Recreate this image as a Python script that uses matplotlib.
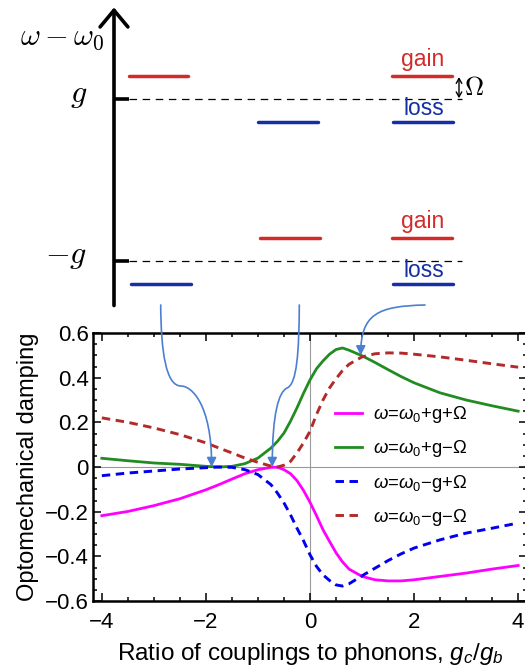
import numpy as np
import matplotlib.pyplot as plt
from matplotlib.path import Path
from matplotlib.patches import FancyArrowPatch
from matplotlib.ticker import MultipleLocator, FuncFormatter

plt.rcParams['font.family'] = ['Liberation Sans', 'DejaVu Sans']
plt.rcParams['mathtext.fontset'] = 'custom'
plt.rcParams['mathtext.rm'] = 'Liberation Sans'
plt.rcParams['mathtext.it'] = 'Liberation Sans:italic'

# --- top schematic: levels in units of g ---
g = 1.0
Omega = 0.28
col1_gain = [g + Omega]
col1_loss = [-g - Omega]
col2_gain = [-g + Omega]
col2_loss = [g - Omega]
col3_gain = [g + Omega, -g + Omega]
col3_loss = [g - Omega, -g - Omega]

# --- bottom plot: optomechanical damping vs g_c/g_b ---
ratio = [-4, -3.5, -3, -2.5, -2, -1.75, -1.5, -1.25, -1, -0.75, -0.625, -0.5,
         -0.375, -0.25, -0.125, 0, 0.125, 0.25, 0.375, 0.5, 0.625, 0.75, 1,
         1.25, 1.5, 1.75, 2, 2.5, 3, 3.5, 4]
plus_g_plus_W = [-0.218, -0.199, -0.173, -0.142, -0.102, -0.079, -0.054, -0.03,
                 -0.012, -0.0015, -0.001, -0.012, -0.03, -0.061, -0.105, -0.158,
                 -0.218, -0.281, -0.333, -0.384, -0.425, -0.457, -0.49, -0.505,
                 -0.51, -0.51, -0.505, -0.49, -0.475, -0.457, -0.441]
plus_g_minus_W = [0.039, 0.028, 0.018, 0.012, 0.003, 0.0, 0.003, 0.015, 0.04,
                  0.085, 0.115, 0.152, 0.205, 0.265, 0.33, 0.39, 0.44, 0.475,
                  0.505, 0.526, 0.533, 0.523, 0.498, 0.468, 0.436, 0.405, 0.377,
                  0.332, 0.300, 0.274, 0.25]
minus_g_plus_W = [-0.039, -0.027, -0.018, -0.009, -0.003, 0.0, -0.0015, -0.012,
                  -0.034, -0.079, -0.117, -0.161, -0.214, -0.274, -0.33, -0.393,
                  -0.445, -0.483, -0.508, -0.528, -0.533, -0.523, -0.487, -0.453,
                  -0.419, -0.389, -0.363, -0.326, -0.296, -0.274, -0.251]
minus_g_minus_W = [0.22, 0.2, 0.175, 0.145, 0.108, 0.085, 0.063, 0.04, 0.021,
                   0.004, 0.0, 0.008, 0.025, 0.063, 0.108, 0.16, 0.235, 0.30,
                   0.354, 0.395, 0.432, 0.46, 0.493, 0.507, 0.511, 0.51, 0.505,
                   0.493, 0.478, 0.462, 0.447]
labels = [r'$\omega$=$\omega_0$+g+Ω', r'$\omega$=$\omega_0$+g−Ω',
          r'$\omega$=$\omega_0$−g+Ω', r'$\omega$=$\omega_0$−g−Ω']
# arrow tips (points where damping vanishes / curves cross)
tips_x = [-1.89, -0.725, 0.975]
tips_y = [0.0, 0.0, 0.50]

red = '#d42a2a'
blue = '#1630a4'
arrow_c = '#4b7fd1'

fig = plt.figure(figsize=(5.25, 6.67), dpi=100)

# ---------- top schematic ----------
axt = fig.add_axes([0, 1 - 310 / 667, 1, 310 / 667])
axt.set_xlim(0, 525)
axt.set_ylim(-1.605, 2.222)
axt.axis('off')

axt.annotate('', xy=(114, 2.13), xytext=(114, -1.55),
             arrowprops=dict(arrowstyle='->,head_length=0.6,head_width=0.5',
                             lw=2.6, color='black', mutation_scale=20,
                             shrinkA=0, shrinkB=0))
for lev in [g, -g]:
    axt.plot([114, 129], [lev, lev], color='black', lw=2.6, solid_capstyle='butt')
    axt.plot([129, 462], [lev, lev], color='black', lw=0.9, dashes=(6, 4.5))

def level(x0, x1, ys, c):
    for y in ys:
        axt.plot([x0, x1], [y, y], color=c, lw=2.5, solid_capstyle='round')

level(129, 188, col1_gain, red)
level(131, 191, col1_loss, blue)
level(258, 318, col2_loss, blue)
level(260, 320, col2_gain, red)
level(392, 452, col3_gain, red)
level(393, 453, col3_loss, blue)

for y in col3_gain:
    axt.text(423, y + 0.13, 'gain', color=red, fontsize=16.5, ha='center', va='baseline')
for y in col3_loss:
    axt.text(424, y + 0.08, 'loss', color=blue, fontsize=16.5, ha='center', va='baseline')

axt.annotate('', xy=(459, g + Omega - 0.01), xytext=(459, g + 0.01),
             arrowprops=dict(arrowstyle='<->,head_length=0.35,head_width=0.2',
                             lw=1.0, color='black', mutation_scale=10,
                             shrinkA=0, shrinkB=0))
axt.text(464, g + Omega / 2, r'$\Omega$', fontsize=19, math_fontfamily='cm',
         ha='left', va='center')
axt.text(104, 1.667, r'$\omega - \omega_0$', fontsize=22, math_fontfamily='cm',
         ha='right', va='baseline')
axt.text(87, g - 0.04, r'$g$', fontsize=23, math_fontfamily='cm',
         ha='right', va='baseline')
axt.text(87, -g - 0.02, r'$-g$', fontsize=23, math_fontfamily='cm',
         ha='right', va='baseline')

# ---------- bottom plot ----------
ax = fig.add_axes([93 / 525, 1 - 601 / 667, 434 / 525, 268 / 667])
ax.axhline(0, color='#9a9a9a', lw=0.8, zorder=1)
ax.axvline(0, color='#9a9a9a', lw=0.8, zorder=1)
ax.plot(ratio, plus_g_plus_W, color='#ff00ff', lw=2.0, label=labels[0])
ax.plot(ratio, plus_g_minus_W, color='#228b22', lw=2.0, label=labels[1])
ax.plot(ratio, minus_g_plus_W, color='#0000ee', lw=2.1, ls=(0, (2.9, 1.9)), label=labels[2])
ax.plot(ratio, minus_g_minus_W, color='#b22a2a', lw=2.1, ls=(0, (2.9, 1.9)), label=labels[3])

ax.set_xlim(-4.17, 4.17)
ax.set_ylim(-0.6, 0.6)
ax.xaxis.set_major_locator(MultipleLocator(2))
ax.xaxis.set_minor_locator(MultipleLocator(0.5))
ax.yaxis.set_major_locator(MultipleLocator(0.2))
ax.yaxis.set_minor_locator(MultipleLocator(0.05))

def fmt(v, pos):
    if abs(v) < 1e-9:
        return '0'
    return f'{v:.1f}'.replace('-', '\u2212')

ax.yaxis.set_major_formatter(FuncFormatter(fmt))
ax.tick_params(which='both', direction='in', top=True, right=True, width=1.1,
               labelsize=16)
ax.tick_params(which='major', length=5.5)
ax.tick_params(which='minor', length=3)
ax.tick_params(axis='x', pad=8)
ax.tick_params(axis='y', pad=3)
for s in ax.spines.values():
    s.set_linewidth(1.8)
ax.set_ylabel('Optomechanical damping', fontsize=17, labelpad=4)
ax.set_xlabel('Ratio of couplings to phonons, $g_c/g_b$', fontsize=17.5, labelpad=6)
ax.legend(loc='upper left', bbox_to_anchor=(0.557, 0.735), frameon=False,
          fontsize=13.3, borderpad=0, borderaxespad=0, handlelength=1.5,
          handletextpad=0.55, labelspacing=0.72)

# ---------- curved pointer arrows (overlay in pixel coordinates) ----------
ov = fig.add_axes([0, 0, 1, 1], zorder=10)
ov.set_xlim(0, 525)
ov.set_ylim(667, 0)
ov.axis('off')
ov.patch.set_alpha(0)

tips = [ov.transData.inverted().transform(ax.transData.transform((tx, ty)))
        for tx, ty in zip(tips_x, tips_y)]

C = Path.CURVE4
(t1x, t1y), (t2x, t2y), (t3x, t3y) = tips
paths = [
    Path([(160.7, 305), (161, 352), (166, 386), (181, 386),
          (192, 386), (t1x, 405), (t1x, t1y)],
         [Path.MOVETO, C, C, C, C, C, C]),
    Path([(299.3, 305), (299, 352), (297, 384), (287, 388),
          (279, 392), (t2x, 412), (t2x, t2y)],
         [Path.MOVETO, C, C, C, C, C, C]),
    Path([(425, 305), (378, 306), (t3x, 314), (t3x, t3y)],
         [Path.MOVETO, C, C, C]),
]
for p in paths:
    ov.add_patch(FancyArrowPatch(path=p, transform=ov.transData,
                                 arrowstyle='-|>,head_length=0.55,head_width=0.28',
                                 mutation_scale=10, color=arrow_c, lw=1.2))

fig.savefig('out.png', dpi=100)
